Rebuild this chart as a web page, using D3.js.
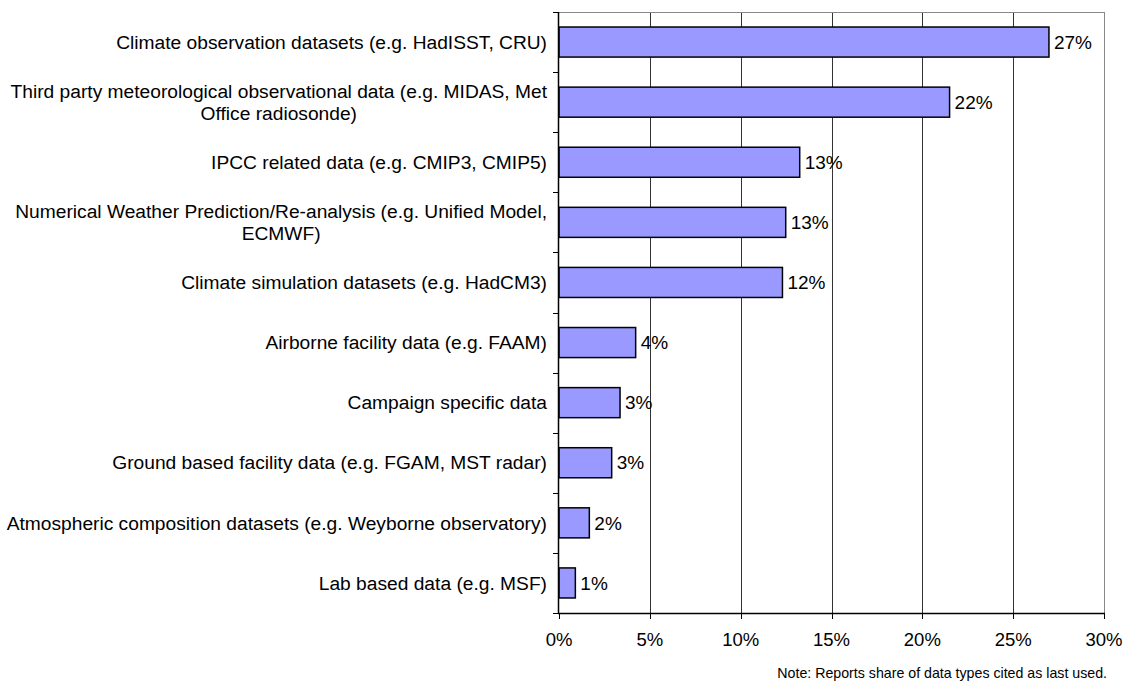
<!DOCTYPE html>
<html><head><meta charset="utf-8">
<script src="https://cdn.jsdelivr.net/npm/d3@7"></script>
<style>
html,body{margin:0;padding:0;background:#fff;}
text{font-family:"Liberation Sans",Arial,sans-serif;fill:#000;}
</style></head>
<body>
<svg id="c" width="1125" height="684"></svg>
<script>
const categories = [
  ["Climate observation datasets (e.g. HadISST, CRU)"],
  ["Third party meteorological observational data (e.g. MIDAS, Met", "Office radiosonde)"],
  ["IPCC related data (e.g. CMIP3, CMIP5)"],
  ["Numerical Weather Prediction/Re-analysis (e.g. Unified Model,", "ECMWF)"],
  ["Climate simulation datasets (e.g. HadCM3)"],
  ["Airborne facility data (e.g. FAAM)"],
  ["Campaign specific data"],
  ["Ground based facility data (e.g. FGAM, MST radar)"],
  ["Atmospheric composition datasets (e.g. Weyborne observatory)"],
  ["Lab based data (e.g. MSF)"]
];
const values = [26.97, 21.5, 13.25, 12.48, 12.3, 4.22, 3.36, 2.9, 1.67, 0.9];
const valueLabels = ["27%", "22%", "13%", "13%", "12%", "4%", "3%", "3%", "2%", "1%"];
const xTicks = [0, 5, 10, 15, 20, 25, 30];
const note = "Note: Reports share of data types cited as last used.";

const svg = d3.select("#c");
const L = 559, R = 1104, T = 12, B = 613;
const x = d3.scaleLinear().domain([0, 30]).range([L, R]);
const idx = d3.range(categories.length);
const y = d3.scaleBand().domain(idx).range([T, B]).paddingInner(0.5).paddingOuter(0.25);
const yb = d3.scaleBand().domain(idx).range([T, B]);

// gridlines
svg.append("g").selectAll("line").data(xTicks.slice(1)).join("line")
  .attr("x1", d => Math.round(x(d)) + 0.5).attr("x2", d => Math.round(x(d)) + 0.5)
  .attr("y1", T).attr("y2", B).attr("stroke", d => d === 30 ? "#888" : "#333").attr("stroke-width", 1);
// top border
svg.append("line").attr("x1", L).attr("x2", R + 0.5).attr("y1", T + 0.5).attr("y2", T + 0.5)
  .attr("stroke", "#888");

// bars
svg.append("g").selectAll("rect").data(values).join("rect")
  .attr("x", x(0)).attr("y", (d, i) => y(i))
  .attr("width", d => x(d) - x(0)).attr("height", y.bandwidth())
  .attr("fill", "#9999FF").attr("stroke", "#000").attr("stroke-width", 1.5);

// value labels
svg.append("g").selectAll("text").data(values).join("text")
  .attr("x", d => x(d) + 5).attr("y", (d, i) => y(i) + y.bandwidth() / 2)
  .attr("dy", "0.35em").attr("font-size", 19)
  .text((d, i) => valueLabels[i]);

// axes lines
svg.append("line").attr("x1", L - 0.5).attr("x2", L - 0.5).attr("y1", T).attr("y2", B + 1)
  .attr("stroke", "#000").attr("stroke-width", 1.5);
svg.append("line").attr("x1", L - 1).attr("x2", R + 1).attr("y1", B + 0.5).attr("y2", B + 0.5)
  .attr("stroke", "#000").attr("stroke-width", 1.5);

// y ticks at band boundaries
const yTickPos = idx.map(i => yb(i)).concat([B]);
svg.append("g").selectAll("line").data(yTickPos).join("line")
  .attr("x1", L - 6).attr("x2", L).attr("y1", d => Math.round(d) + 0.5).attr("y2", d => Math.round(d) + 0.5)
  .attr("stroke", "#000");
// x ticks
svg.append("g").selectAll("line").data(xTicks).join("line")
  .attr("x1", d => Math.round(x(d)) + 0.5).attr("x2", d => Math.round(x(d)) + 0.5)
  .attr("y1", B).attr("y2", B + 6).attr("stroke", "#000");
svg.append("g").selectAll("text").data(xTicks).join("text")
  .attr("x", d => x(d)).attr("y", B + 33).attr("text-anchor", "middle").attr("font-size", 18.5)
  .text(d => d + "%");

// category labels
const labelRight = 547;
const lg = svg.append("g");
categories.forEach((lines, i) => {
  const cy = yb(i) + yb.bandwidth() / 2;
  const lh = 22;
  const g = lg.append("g");
  const texts = lines.map((s, k) => g.append("text")
    .attr("y", cy + (k - (lines.length - 1) / 2) * lh).attr("dy", "0.35em")
    .attr("font-size", 19.2).text(s));
  const maxW = d3.max(texts, t => t.node().getComputedTextLength());
  texts.forEach(t => t.attr("x", labelRight - maxW / 2).attr("text-anchor", "middle"));
});

// note
svg.append("text").attr("x", 1107).attr("y", 678).attr("text-anchor", "end")
  .attr("font-size", 14.2).text(note);
</script>
</body></html>
